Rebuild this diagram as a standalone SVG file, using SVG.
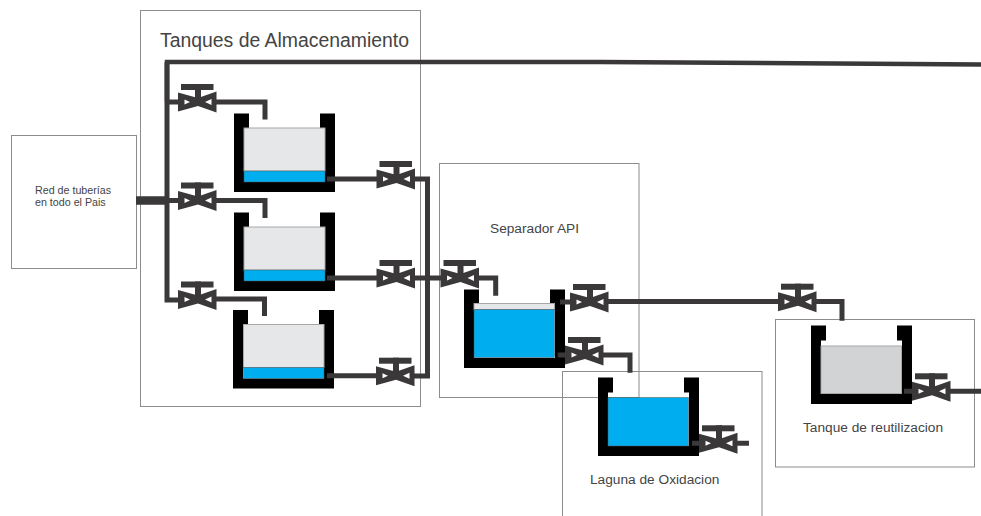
<svg xmlns="http://www.w3.org/2000/svg" width="981" height="516" viewBox="0 0 981 516">
<style>
text{font-family:"Liberation Sans",Arial,sans-serif;fill:#444}
.box{fill:none;stroke:#8c8c8c;stroke-width:1}
.wall{fill:#000}
.air{fill:#e6e7e8;stroke:#a8a8a8;stroke-width:1}
.water{fill:#00aeef;stroke:#555;stroke-width:.5}
.pipe{fill:none;stroke:#3a3839;stroke-width:5}
.v{fill:#3a3839}
.vw{fill:#fff}
</style>
<defs>
<g id="valve">
<rect class="v" x="-17" y="-18" width="32.500" height="6"/>
<rect class="v" x="-3" y="-18" width="6" height="18"/>
<path class="v" d="M-20 -9.500L0 -4L18.500 -10.500V10.500L0 4L-20 9.500Z"/>
<polygon class="vw" points="-13.500,-2.500 -13.500,2.500 -8,0"/>
<polygon class="vw" points="13.500,-3 13.500,3 7,0"/>
</g>
<path id="tank" class="wall" d="M0 0H15V15H10V68.500H91V15H86V0H101V78.500H0Z"/>
</defs>
<g id="boxes">
<rect id="box-tanques" class="box" x="140.500" y="10.500" width="280" height="396"/>
<rect id="box-red" class="box" x="11.500" y="135.500" width="125" height="133"/>
<rect id="box-api" class="box" x="439.500" y="163.500" width="199.500" height="234"/>
<rect id="box-laguna" class="box" x="562.500" y="371.500" width="199.500" height="150"/>
<rect id="box-reuso" class="box" x="775.500" y="319.500" width="199" height="147.500"/>
</g>
<g id="tank-1"><use href="#tank" x="234" y="113.500"/><rect class="air" x="244" y="128" width="81" height="43"/><rect class="water" x="244" y="171" width="81" height="11"/></g>
<g id="tank-2"><use href="#tank" x="234" y="212.500"/><rect class="air" x="244" y="227" width="81" height="43"/><rect class="water" x="244" y="270" width="81" height="11"/></g>
<g id="tank-3"><use href="#tank" x="233" y="310"/><rect class="air" x="243.500" y="324.500" width="80.500" height="43"/><rect class="water" x="243.500" y="367.500" width="80.500" height="11"/></g>
<g id="tank-api"><use href="#tank" x="464" y="289.500"/><rect class="air" x="474" y="303.500" width="80.500" height="6"/><rect class="water" x="474" y="309.500" width="80.500" height="48"/></g>
<g id="tank-laguna"><use href="#tank" x="598" y="377.500"/><rect class="water" x="608" y="397.500" width="80.500" height="48.500"/></g>
<g id="tank-reuso"><use href="#tank" x="811" y="325.500"/><rect class="air" style="fill:#d1d3d4" x="821" y="346" width="80.500" height="47.500"/></g>
<g id="connectors">
<path class="pipe" d="M167 102V62H600L981 64.500" style="stroke-width:4.500"/>
<path class="pipe" d="M167 62V300H182M165 102H182M165 200.500H182"/>
<path d="M136 200.500H166" fill="none" stroke="#3a3839" stroke-width="8.500"/>
<path class="pipe" d="M214 102H265V119.500"/>
<path class="pipe" d="M214 200.500H265V218"/>
<path class="pipe" d="M214 299H264.500V316"/>
<path class="pipe" d="M327 179H380M413 179H427.500V376H412M327 278H380M413 278H445"/>
<path class="pipe" d="M327 375.700H380"/>
<path class="pipe" d="M476 278H495.700V295.700"/>
<path class="pipe" d="M560 302H574M606 301.500H782M814 301.500H842V320.700"/>
<path class="pipe" d="M557.700 355H569M601 355H630V372.700"/>
<path class="pipe" d="M692 443.300H749"/>
<path class="pipe" d="M904 391.300H916M948 391.300H981"/>
</g>
<g id="v1"><use href="#valve" x="198" y="102"/></g>
<g id="v2"><use href="#valve" x="198" y="200.500"/></g>
<g id="v3"><use href="#valve" x="198" y="299.500"/></g>
<g id="v4"><use href="#valve" x="396.500" y="179"/></g>
<g id="v5"><use href="#valve" x="396.500" y="278"/></g>
<g id="v6"><use href="#valve" x="396" y="375.700"/></g>
<g id="v7"><use href="#valve" x="460.500" y="278"/></g>
<g id="v8"><use href="#valve" x="590" y="302"/></g>
<g id="v9"><use href="#valve" x="585" y="355"/></g>
<g id="v10"><use href="#valve" x="798" y="301.700"/></g>
<g id="v11"><use href="#valve" x="719" y="443.300"/></g>
<g id="v12"><use href="#valve" x="932" y="391.300"/></g>
<g id="labels">
<text x="160" y="47" font-size="19.400">Tanques de Almacenamiento</text>
<text x="35" y="194" font-size="10.700">Red de tuberías</text>
<text x="35" y="206" font-size="10.700">en todo el Pais</text>
<text x="490" y="233" font-size="13.700">Separador API</text>
<text x="590" y="484" font-size="13.700">Laguna de Oxidacion</text>
<text x="803" y="432" font-size="13.700">Tanque de reutilizacion</text>
</g>
</svg>
